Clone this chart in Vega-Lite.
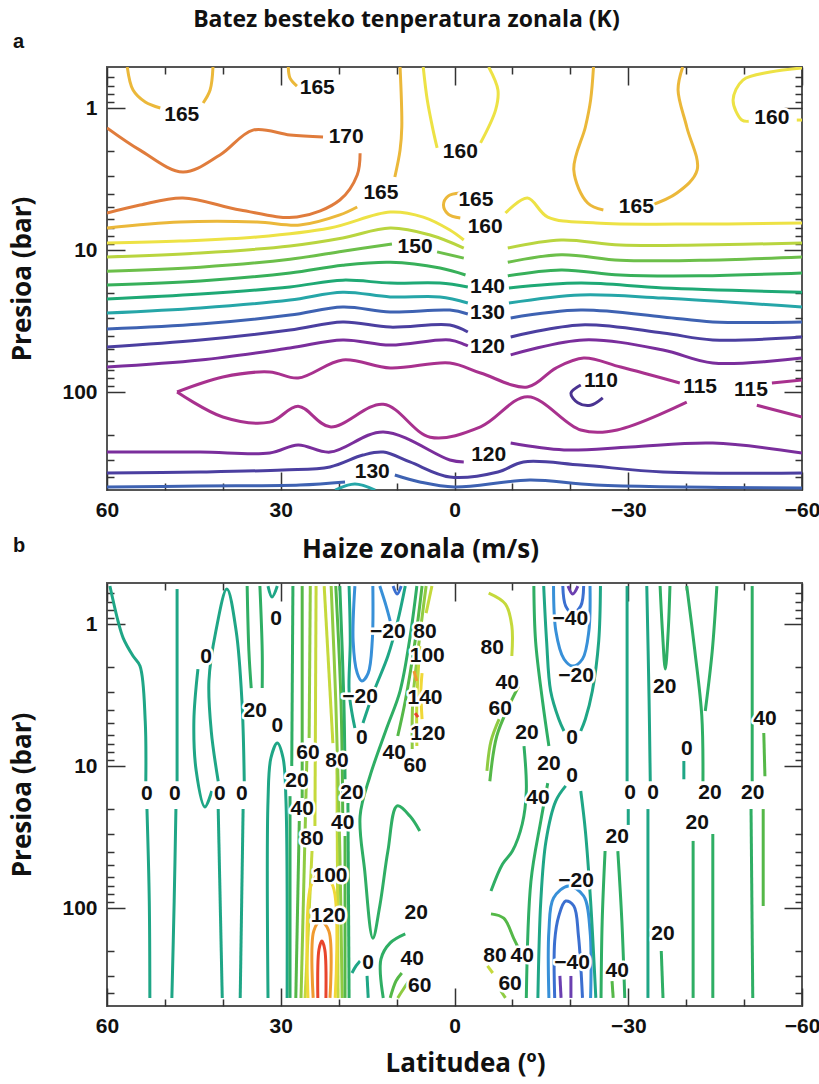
{
  "$schema": "https://vega.github.io/schema/vega-lite/v6.json",
  "autosize": {"type": "pad"},
  "padding": {"left": 8, "top": 9, "right": 2, "bottom": 8},
  "background": "white",
  "title": {"text": "Batez besteko tenperatura  zonala (K)", "font": "Open Sans", "fontSize": 23, "fontWeight": "bold", "color": "#111", "anchor": "middle", "offset": -1, "dx": -8},
  "config": {
    "view": {"stroke": "#555", "strokeWidth": 2},
    "axis": {"grid": false, "domain": false, "tickColor": "#333", "tickWidth": 1.5, "labelFont": "Liberation Sans", "labelFontSize": 21, "labelFontWeight": "bold", "labelColor": "#111", "titleFont": "Open Sans", "titleFontSize": 26, "titleFontWeight": "bold", "titleColor": "#111", "labelFlush": false, "labelOverlap": false}
  },
  "spacing": 93,
  "bounds": "flush",
  "resolve": {"scale": {"color": "independent"}},
  "datasets": {
    "a1": [
      {"seg":"a165a","T":165,"lat":60,"p":7.0},{"seg":"a165a","T":165,"lat":47.4,"p":6.35},{"seg":"a165a","T":165,"lat":34.1,"p":6.35},{"seg":"a165a","T":165,"lat":26.7,"p":6.67},{"seg":"a165a","T":165,"lat":19.8,"p":5.66},{"seg":"a165a","T":165,"lat":16.8,"p":4.98},
      {"seg":"a165b","T":165,"lat":10.3,"p":3.06},{"seg":"a165b","T":165,"lat":9.4,"p":1.98},{"seg":"a165b","T":165,"lat":9.1,"p":1.36},{"seg":"a165b","T":165,"lat":9.4,"p":0.514},
      {"seg":"a160e","T":160,"lat":60,"p":8.93},{"seg":"a160e","T":160,"lat":47.4,"p":8.65},{"seg":"a160e","T":160,"lat":34.1,"p":8.1},{"seg":"a160e","T":160,"lat":21.5,"p":7.0},{"seg":"a160e","T":160,"lat":11.1,"p":5.4},{"seg":"a160e","T":160,"lat":5.4,"p":5.86},{"seg":"a160e","T":160,"lat":0.8,"p":7.23},{"seg":"a160e","T":160,"lat":-1.6,"p":8.5},
      {"seg":"a160f","T":160,"lat":-8.8,"p":5.49},{"seg":"a160f","T":160,"lat":-12.6,"p":4.3},{"seg":"a160f","T":160,"lat":-16.1,"p":5.86},{"seg":"a160f","T":160,"lat":-24.4,"p":6.45},{"seg":"a160f","T":160,"lat":-42.4,"p":6.56},{"seg":"a160f","T":160,"lat":-60,"p":6.45},
      {"seg":"a155a","T":155,"lat":60,"p":11.2},{"seg":"a155a","T":155,"lat":43.9,"p":10.5},{"seg":"a155a","T":155,"lat":28.4,"p":9.37},{"seg":"a155a","T":155,"lat":19.3,"p":8.23},{"seg":"a155a","T":155,"lat":11.1,"p":7.0},{"seg":"a155a","T":155,"lat":4.2,"p":7.84},{"seg":"a155a","T":155,"lat":-1.6,"p":9.68},
      {"seg":"a155b","T":155,"lat":-9.2,"p":9.68},{"seg":"a155b","T":155,"lat":-18.4,"p":8.5},{"seg":"a155b","T":155,"lat":-28.6,"p":9.22},{"seg":"a155b","T":155,"lat":-42.4,"p":9.22},{"seg":"a155b","T":155,"lat":-60,"p":8.93},
      {"seg":"a150a","T":150,"lat":60,"p":14.1},{"seg":"a150a","T":150,"lat":43.9,"p":13.2},{"seg":"a150a","T":150,"lat":28.4,"p":11.6},{"seg":"a150a","T":150,"lat":19.3,"p":10.2},{"seg":"a150a","T":150,"lat":10.8,"p":9.07},
      {"seg":"a150b","T":150,"lat":3.0,"p":10.3},{"seg":"a150b","T":150,"lat":-1.6,"p":11.4},
      {"seg":"a150c","T":150,"lat":-9.2,"p":12.2},{"seg":"a150c","T":150,"lat":-18.4,"p":10.8},{"seg":"a150c","T":150,"lat":-28.6,"p":11.8},{"seg":"a150c","T":150,"lat":-42.4,"p":11.8},{"seg":"a150c","T":150,"lat":-60,"p":11.2},
      {"seg":"a145a","T":145,"lat":60,"p":17.6},{"seg":"a145a","T":145,"lat":43.9,"p":16.5},{"seg":"a145a","T":145,"lat":28.4,"p":14.5},{"seg":"a145a","T":145,"lat":19.3,"p":12.8},{"seg":"a145a","T":145,"lat":11.1,"p":12.2},{"seg":"a145a","T":145,"lat":2.5,"p":13.4},{"seg":"a145a","T":145,"lat":-1.9,"p":15.0},
      {"seg":"a145b","T":145,"lat":-9.2,"p":15.2},{"seg":"a145b","T":145,"lat":-18.4,"p":13.8},{"seg":"a145b","T":145,"lat":-28.6,"p":15.0},{"seg":"a145b","T":145,"lat":-42.4,"p":15.2},{"seg":"a145b","T":145,"lat":-60,"p":14.5},
      {"seg":"a140a","T":140,"lat":60,"p":22.1},{"seg":"a140a","T":140,"lat":43.9,"p":20.4},{"seg":"a140a","T":140,"lat":28.4,"p":18.2},{"seg":"a140a","T":140,"lat":19.3,"p":16.3},{"seg":"a140a","T":140,"lat":11.1,"p":17.1},{"seg":"a140a","T":140,"lat":2.5,"p":17.1},{"seg":"a140a","T":140,"lat":-2.3,"p":18.2},
      {"seg":"a140b","T":140,"lat":-9.4,"p":18.5},{"seg":"a140b","T":140,"lat":-21.8,"p":17.1},{"seg":"a140b","T":140,"lat":-36,"p":18.5},{"seg":"a140b","T":140,"lat":-60,"p":19.8},
      {"seg":"a135a","T":135,"lat":60,"p":27.8},{"seg":"a135a","T":135,"lat":43.9,"p":25.6},{"seg":"a135a","T":135,"lat":28.4,"p":22.5},{"seg":"a135a","T":135,"lat":19.3,"p":19.8},{"seg":"a135a","T":135,"lat":11.1,"p":21.4},{"seg":"a135a","T":135,"lat":2.5,"p":21.4},{"seg":"a135a","T":135,"lat":-2.3,"p":23.6},
      {"seg":"a135b","T":135,"lat":-9.4,"p":23.6},{"seg":"a135b","T":135,"lat":-21.8,"p":20.7},{"seg":"a135b","T":135,"lat":-36,"p":21.8},{"seg":"a135b","T":135,"lat":-60,"p":25.2},
      {"seg":"a130a","T":130,"lat":60,"p":36.0},{"seg":"a130a","T":130,"lat":43.9,"p":33.2},{"seg":"a130a","T":130,"lat":28.4,"p":28.7},{"seg":"a130a","T":130,"lat":19.3,"p":25.2},{"seg":"a130a","T":130,"lat":11.1,"p":27.3},{"seg":"a130a","T":130,"lat":0.8,"p":26.5},{"seg":"a130a","T":130,"lat":-2.3,"p":28.2},
      {"seg":"a130b","T":130,"lat":-9.7,"p":30.1},{"seg":"a130b","T":130,"lat":-21.8,"p":26.5},{"seg":"a130b","T":130,"lat":-36,"p":29.6},{"seg":"a130b","T":130,"lat":-44.6,"p":32.1},{"seg":"a130b","T":130,"lat":-60,"p":32.1},
      {"seg":"a125a","T":125,"lat":60,"p":48.2},{"seg":"a125a","T":125,"lat":43.9,"p":43.0},{"seg":"a125a","T":125,"lat":28.4,"p":36.6},{"seg":"a125a","T":125,"lat":19.3,"p":32.1},{"seg":"a125a","T":125,"lat":11.1,"p":34.9},{"seg":"a125a","T":125,"lat":0.8,"p":33.7},{"seg":"a125a","T":125,"lat":-2.3,"p":37.8},
      {"seg":"a125b","T":125,"lat":-9.7,"p":41.0},{"seg":"a125b","T":125,"lat":-21.8,"p":33.7},{"seg":"a125b","T":125,"lat":-36,"p":38.4},{"seg":"a125b","T":125,"lat":-44.6,"p":43.0},{"seg":"a125b","T":125,"lat":-60,"p":41.0},
      {"seg":"a120a","T":120,"lat":60,"p":66.7},{"seg":"a120a","T":120,"lat":43.9,"p":59.5},{"seg":"a120a","T":120,"lat":28.4,"p":49.0},{"seg":"a120a","T":120,"lat":19.3,"p":43.0},{"seg":"a120a","T":120,"lat":11.1,"p":46.7},{"seg":"a120a","T":120,"lat":0.8,"p":43.0},{"seg":"a120a","T":120,"lat":-2.3,"p":47.4},
      {"seg":"a120b","T":120,"lat":-9.7,"p":54.8},{"seg":"a120b","T":120,"lat":-22.3,"p":43.0},{"seg":"a120b","T":120,"lat":-36,"p":50.6},{"seg":"a120b","T":120,"lat":-44.6,"p":62.5},{"seg":"a120b","T":120,"lat":-60,"p":57.6},
      {"seg":"a115a","T":115,"lat":47.9,"p":100},{"seg":"a115a","T":115,"lat":40.0,"p":78.4},{"seg":"a115a","T":115,"lat":31.9,"p":72.3},{"seg":"a115a","T":115,"lat":27.0,"p":79.7},{"seg":"a115a","T":115,"lat":19.3,"p":59.5},{"seg":"a115a","T":115,"lat":11.1,"p":67.8},{"seg":"a115a","T":115,"lat":0.8,"p":62.5},{"seg":"a115a","T":115,"lat":-4.5,"p":73.5},{"seg":"a115a","T":115,"lat":-12.6,"p":92.2},{"seg":"a115a","T":115,"lat":-17.5,"p":67.8},{"seg":"a115a","T":115,"lat":-22.3,"p":57.6},{"seg":"a115a","T":115,"lat":-28.7,"p":66.7},{"seg":"a115a","T":115,"lat":-38.9,"p":86.4},
      {"seg":"a115b","T":115,"lat":-54.8,"p":86.4},{"seg":"a115b","T":115,"lat":-60,"p":82.3},
      {"seg":"a115c","T":115,"lat":47.9,"p":100},{"seg":"a115c","T":115,"lat":40.0,"p":150},{"seg":"a115c","T":115,"lat":31.9,"p":163},{"seg":"a115c","T":115,"lat":27.0,"p":126},{"seg":"a115c","T":115,"lat":21.5,"p":176},{"seg":"a115c","T":115,"lat":12.3,"p":122},{"seg":"a115c","T":115,"lat":4.2,"p":208},{"seg":"a115c","T":115,"lat":-4.5,"p":176},{"seg":"a115c","T":115,"lat":-12.6,"p":108},{"seg":"a115c","T":115,"lat":-21.8,"p":185},{"seg":"a115c","T":115,"lat":-28.1,"p":185},{"seg":"a115c","T":115,"lat":-40.1,"p":118},
      {"seg":"a115d","T":115,"lat":-52.2,"p":124},{"seg":"a115d","T":115,"lat":-60,"p":150},
      {"seg":"a120c","T":120,"lat":60,"p":265},{"seg":"a120c","T":120,"lat":43.9,"p":265},{"seg":"a120c","T":120,"lat":31.9,"p":269},{"seg":"a120c","T":120,"lat":27.0,"p":236},{"seg":"a120c","T":120,"lat":21.5,"p":265},{"seg":"a120c","T":120,"lat":12.3,"p":191},{"seg":"a120c","T":120,"lat":0.8,"p":301},{"seg":"a120c","T":120,"lat":-1.6,"p":311},
      {"seg":"a120d","T":120,"lat":-9.7,"p":229},{"seg":"a120d","T":120,"lat":-18.9,"p":256},{"seg":"a120d","T":120,"lat":-30.4,"p":244},{"seg":"a120d","T":120,"lat":-44.6,"p":229},{"seg":"a120d","T":120,"lat":-60,"p":269},
      {"seg":"a125c","T":125,"lat":60,"p":372},{"seg":"a125c","T":125,"lat":43.9,"p":366},{"seg":"a125c","T":125,"lat":29.6,"p":354},{"seg":"a125c","T":125,"lat":21.5,"p":337},{"seg":"a125c","T":125,"lat":15.8,"p":278},{"seg":"a125c","T":125,"lat":12.3,"p":265},{"seg":"a125c","T":125,"lat":7.7,"p":311},{"seg":"a125c","T":125,"lat":0.8,"p":397},{"seg":"a125c","T":125,"lat":-7.5,"p":366},{"seg":"a125c","T":125,"lat":-11.9,"p":311},{"seg":"a125c","T":125,"lat":-21.8,"p":327},{"seg":"a125c","T":125,"lat":-36,"p":366},{"seg":"a125c","T":125,"lat":-60,"p":372},
      {"seg":"a130c","T":130,"lat":60,"p":467},{"seg":"a130c","T":130,"lat":43.9,"p":459},{"seg":"a130c","T":130,"lat":26.7,"p":452},{"seg":"a130c","T":130,"lat":18.9,"p":430},
      {"seg":"a130d","T":130,"lat":10.3,"p":384},{"seg":"a130d","T":130,"lat":6.0,"p":430},{"seg":"a130d","T":130,"lat":0,"p":467},{"seg":"a130d","T":130,"lat":-13.0,"p":417},{"seg":"a130d","T":130,"lat":-24.4,"p":452},{"seg":"a130d","T":130,"lat":-60,"p":474}
    ],
    "a2": [
      {"seg":"a170a","T":170,"lat":60,"p":1.38},{"seg":"a170a","T":170,"lat":54.3,"p":1.98},{"seg":"a170a","T":170,"lat":46.9,"p":2.82},{"seg":"a170a","T":170,"lat":40.5,"p":2.14},{"seg":"a170a","T":170,"lat":34.8,"p":1.43},{"seg":"a170a","T":170,"lat":28.4,"p":1.55},{"seg":"a170a","T":170,"lat":22.7,"p":1.6},
      {"seg":"a170b","T":170,"lat":16.3,"p":2.08},{"seg":"a170b","T":170,"lat":16.8,"p":2.96},{"seg":"a170b","T":170,"lat":19.8,"p":4.44},{"seg":"a170b","T":170,"lat":27.2,"p":5.86},{"seg":"a170b","T":170,"lat":37.0,"p":5.23},{"seg":"a170b","T":170,"lat":46.9,"p":4.3},{"seg":"a170b","T":170,"lat":54.3,"p":4.82},{"seg":"a170b","T":170,"lat":60,"p":5.49},
      {"seg":"a165c","T":165,"lat":56.5,"p":0.514},{"seg":"a165c","T":165,"lat":55.5,"p":0.747},{"seg":"a165c","T":165,"lat":53.4,"p":0.907},{"seg":"a165c","T":165,"lat":50.8,"p":1.0},
      {"seg":"a165d","T":165,"lat":43.4,"p":0.922},{"seg":"a165d","T":165,"lat":42.2,"p":0.747},{"seg":"a165d","T":165,"lat":41.7,"p":0.514},
      {"seg":"a165e","T":165,"lat":28.7,"p":0.514},{"seg":"a165e","T":165,"lat":28.4,"p":0.615},{"seg":"a165e","T":165,"lat":27.2,"p":0.7},
      {"seg":"a160a","T":160,"lat":5.4,"p":0.514},{"seg":"a160a","T":160,"lat":4.7,"p":0.879},{"seg":"a160a","T":160,"lat":3.7,"p":1.43},{"seg":"a160a","T":160,"lat":3.0,"p":1.91},
      {"seg":"a160b","T":160,"lat":-4.5,"p":1.76},{"seg":"a160b","T":160,"lat":-7.1,"p":1.03},{"seg":"a160b","T":160,"lat":-7.5,"p":0.747},{"seg":"a160b","T":160,"lat":-5.9,"p":0.514},
      {"seg":"a165f","T":165,"lat":-1.0,"p":3.97},{"seg":"a165f","T":165,"lat":1.1,"p":4.17},{"seg":"a165f","T":165,"lat":1.9,"p":4.82},{"seg":"a165f","T":165,"lat":1.1,"p":5.58},{"seg":"a165f","T":165,"lat":-1.0,"p":5.95},
      {"seg":"a165g","T":165,"lat":-24.0,"p":0.514},{"seg":"a165g","T":165,"lat":-23.5,"p":0.879},{"seg":"a165g","T":165,"lat":-22.6,"p":1.36},{"seg":"a165g","T":165,"lat":-20.6,"p":2.73},{"seg":"a165g","T":165,"lat":-23.0,"p":4.67},{"seg":"a165g","T":165,"lat":-25.7,"p":5.23},
      {"seg":"a165h","T":165,"lat":-33.6,"p":4.9},{"seg":"a165h","T":165,"lat":-38.4,"p":3.97},{"seg":"a165h","T":165,"lat":-41.9,"p":2.73},{"seg":"a165h","T":165,"lat":-40.1,"p":1.36},{"seg":"a165h","T":165,"lat":-38.6,"p":0.747},{"seg":"a165h","T":165,"lat":-39.4,"p":0.514},
      {"seg":"a160c","T":160,"lat":-60,"p":0.522},{"seg":"a160c","T":160,"lat":-54.5,"p":0.558},{"seg":"a160c","T":160,"lat":-49.8,"p":0.635},{"seg":"a160c","T":160,"lat":-48.1,"p":0.879},{"seg":"a160c","T":160,"lat":-49.6,"p":1.215},{"seg":"a160c","T":160,"lat":-50.8,"p":1.24},
      {"seg":"a160d","T":160,"lat":-59.1,"p":1.215},{"seg":"a160d","T":160,"lat":-60,"p":1.215},
      {"seg":"a110","T":110,"lat":-21.8,"p":89.3},{"seg":"a110","T":110,"lat":-20.1,"p":102},{"seg":"a110","T":110,"lat":-21.3,"p":119},{"seg":"a110","T":110,"lat":-23.5,"p":124},{"seg":"a110","T":110,"lat":-25.6,"p":110},
      {"seg":"a135","T":135,"lat":20.6,"p":490},{"seg":"a135","T":135,"lat":17.2,"p":445},{"seg":"a135","T":135,"lat":13.7,"p":490}
    ],
    "la": [
      {"txt":"170","lat":18.7,"p":1.6},{"txt":"165","lat":47.1,"p":1.12},{"txt":"165","lat":23.7,"p":0.723},{"txt":"165","lat":12.7,"p":3.97},{"txt":"160","lat":-1.0,"p":2.04},{"txt":"165","lat":-3.7,"p":4.44},{"txt":"160","lat":-5.3,"p":6.89},{"txt":"150","lat":6.8,"p":9.52},{"txt":"165","lat":-31.4,"p":4.98},{"txt":"160","lat":-54.8,"p":1.18},{"txt":"140","lat":-5.7,"p":18.2},{"txt":"130","lat":-5.7,"p":27.8},{"txt":"120","lat":-5.7,"p":48.2},{"txt":"110","lat":-25.3,"p":83.7},{"txt":"115","lat":-42.4,"p":92.2},{"txt":"115","lat":-51.2,"p":96.8},{"txt":"120","lat":-5.9,"p":278},{"txt":"130","lat":14.2,"p":366}
    ],
    "b1": [
      {"seg":"S1a","u":0,"lat":59.5,"p":0.54},{"seg":"S1a","u":0,"lat":58.1,"p":0.952},{"seg":"S1a","u":0,"lat":57.2,"p":1.255},{"seg":"S1a","u":0,"lat":55.5,"p":1.68},{"seg":"S1a","u":0,"lat":54.3,"p":1.976},{"seg":"S1a","u":0,"lat":53.4,"p":4.82},{"seg":"S1a","u":0,"lat":53.3,"p":12.8},
      {"seg":"S1b","u":0,"lat":53.1,"p":20.1},{"seg":"S1b","u":0,"lat":52.7,"p":89.3},{"seg":"S1b","u":0,"lat":52.6,"p":430},
      {"seg":"S2a","u":0,"lat":47.9,"p":0.567},{"seg":"S2a","u":0,"lat":47.9,"p":3.48},{"seg":"S2a","u":0,"lat":47.9,"p":12.8},
      {"seg":"S2b","u":0,"lat":48.1,"p":20.1},{"seg":"S2b","u":0,"lat":48.4,"p":89.3},{"seg":"S2b","u":0,"lat":48.8,"p":430},
      {"seg":"S3a","u":0,"lat":40.8,"p":12.8},{"seg":"S3a","u":0,"lat":42.0,"p":5.67},{"seg":"S3a","u":0,"lat":42.4,"p":2.52},{"seg":"S3a","u":0,"lat":41.2,"p":1.12},{"seg":"S3a","u":0,"lat":39.3,"p":0.567},{"seg":"S3a","u":0,"lat":37.7,"p":1.12},{"seg":"S3a","u":0,"lat":36.7,"p":3.48},{"seg":"S3a","u":0,"lat":36.3,"p":12.8},
      {"seg":"S3b","u":0,"lat":40.8,"p":20.1},{"seg":"S3b","u":0,"lat":40.1,"p":430},
      {"seg":"S3c","u":0,"lat":36.5,"p":20.1},{"seg":"S3c","u":0,"lat":37.0,"p":430},
      {"seg":"S4","u":0,"lat":44.3,"p":2.08},{"seg":"S4","u":0,"lat":45.0,"p":4.82},{"seg":"S4","u":0,"lat":44.6,"p":10.8},{"seg":"S4","u":0,"lat":43.1,"p":19.4},{"seg":"S4","u":0,"lat":41.9,"p":15.0},
      {"seg":"S5a","u":20,"lat":35.8,"p":0.54},{"seg":"S5a","u":20,"lat":35.5,"p":1.549},{"seg":"S5a","u":20,"lat":35.1,"p":2.824},
      {"seg":"S5b","u":20,"lat":33.2,"p":2.824},{"seg":"S5b","u":20,"lat":33.2,"p":1.549},{"seg":"S5b","u":20,"lat":33.6,"p":0.54},
      {"seg":"S6","u":0,"lat":32.2,"p":0.54},{"seg":"S6","u":0,"lat":31.5,"p":0.645},{"seg":"S6","u":0,"lat":30.6,"p":0.54},
      {"seg":"S7","u":0,"lat":32.2,"p":430},{"seg":"S7","u":0,"lat":32.2,"p":17.6},{"seg":"S7","u":0,"lat":31.7,"p":8.78},{"seg":"S7","u":0,"lat":30.6,"p":6.89},{"seg":"S7","u":0,"lat":29.6,"p":8.78},{"seg":"S7","u":0,"lat":29.1,"p":17.6},{"seg":"S7","u":0,"lat":28.9,"p":430},
      {"seg":"J20La","u":20,"lat":27.9,"p":0.54},{"seg":"J20La","u":20,"lat":28.1,"p":10},
      {"seg":"J20Lb","u":20,"lat":28.4,"p":16.3},{"seg":"J20Lb","u":20,"lat":28.4,"p":430},
      {"seg":"J40La","u":40,"lat":26.3,"p":0.54},{"seg":"J40La","u":40,"lat":26.3,"p":16.8},
      {"seg":"J40Lb","u":40,"lat":26.8,"p":24.4},{"seg":"J40Lb","u":40,"lat":27.4,"p":430},
      {"seg":"J60La","u":60,"lat":24.9,"p":0.54},{"seg":"J60La","u":60,"lat":25.1,"p":6.35},
      {"seg":"J60Lb","u":60,"lat":25.5,"p":9.22},{"seg":"J60Lb","u":60,"lat":26.5,"p":430},
      {"seg":"J80La","u":80,"lat":23.9,"p":0.54},{"seg":"J80La","u":80,"lat":24.1,"p":26.5},
      {"seg":"J80Lb","u":80,"lat":24.6,"p":39.7},{"seg":"J80Lb","u":80,"lat":25.8,"p":430},
      {"seg":"J80Ra","u":80,"lat":22.5,"p":0.54},{"seg":"J80Ra","u":80,"lat":21.0,"p":6.89},
      {"seg":"J80Rb","u":80,"lat":20.3,"p":10},{"seg":"J80Rb","u":80,"lat":20.1,"p":430},
      {"seg":"J100","u":100,"lat":25.3,"p":430},{"seg":"J100","u":100,"lat":24.8,"p":70},{"seg":"J100","u":100,"lat":23.1,"p":56.7},{"seg":"J100","u":100,"lat":21.0,"p":70},{"seg":"J100","u":100,"lat":20.6,"p":430},
      {"seg":"J120","u":120,"lat":24.4,"p":430},{"seg":"J120","u":120,"lat":24.3,"p":145},{"seg":"J120","u":120,"lat":23.1,"p":124},{"seg":"J120","u":120,"lat":21.7,"p":145},{"seg":"J120","u":120,"lat":21.5,"p":430},
      {"seg":"J140","u":140,"lat":23.6,"p":430},{"seg":"J140","u":140,"lat":23.4,"p":196},{"seg":"J140","u":140,"lat":22.9,"p":171},{"seg":"J140","u":140,"lat":22.4,"p":196},{"seg":"J140","u":140,"lat":22.2,"p":430},
      {"seg":"J60R","u":60,"lat":21.3,"p":0.54},{"seg":"J60R","u":60,"lat":20.5,"p":3.48},{"seg":"J60R","u":60,"lat":19.8,"p":39.7},{"seg":"J60R","u":60,"lat":19.4,"p":430},
      {"seg":"J40Ra","u":40,"lat":20.5,"p":0.54},{"seg":"J40Ra","u":40,"lat":19.6,"p":3.48},{"seg":"J40Ra","u":40,"lat":19.3,"p":21.4},
      {"seg":"J40Rb","u":40,"lat":18.9,"p":31.1},{"seg":"J40Rb","u":40,"lat":18.9,"p":430},
      {"seg":"J20Ra","u":20,"lat":19.8,"p":0.54},{"seg":"J20Ra","u":20,"lat":19.1,"p":3.48},{"seg":"J20Ra","u":20,"lat":18.9,"p":12.4},
      {"seg":"J20Rb","u":20,"lat":18.4,"p":18.2},{"seg":"J20Rb","u":20,"lat":18.2,"p":430},
      {"seg":"B4","u":0,"lat":18.2,"p":0.54},{"seg":"B4","u":0,"lat":18.0,"p":1.317},{"seg":"B4","u":0,"lat":18.2,"p":2.964},{"seg":"B4","u":0,"lat":17.7,"p":4.24},{"seg":"B4","u":0,"lat":17.2,"p":5.4},
      {"seg":"B1","u":-20,"lat":17.2,"p":0.54},{"seg":"B1","u":-20,"lat":17.5,"p":1.317},{"seg":"B1","u":-20,"lat":16.8,"p":2.214},{"seg":"B1","u":-20,"lat":16.0,"p":2.52},{"seg":"B1","u":-20,"lat":14.9,"p":2.214},{"seg":"B1","u":-20,"lat":14.2,"p":1.317},{"seg":"B1","u":-20,"lat":14.1,"p":0.54},
      {"seg":"B2","u":-20,"lat":12.9,"p":0.54},{"seg":"B2","u":-20,"lat":11.8,"p":0.747},{"seg":"B2","u":-20,"lat":11.1,"p":0.952},
      {"seg":"B3","u":-40,"lat":10.6,"p":0.54},{"seg":"B3","u":-40,"lat":9.9,"p":0.615},{"seg":"B3","u":-40,"lat":9.2,"p":0.54},
      {"seg":"K0","u":0,"lat":8.5,"p":0.54},{"seg":"K0","u":0,"lat":9.8,"p":0.952},{"seg":"K0","u":0,"lat":11.5,"p":1.68},{"seg":"K0","u":0,"lat":13.9,"p":2.964},{"seg":"K0","u":0,"lat":15.8,"p":4.98},
      {"seg":"B5","u":20,"lat":6.5,"p":0.54},{"seg":"B5","u":20,"lat":7.7,"p":1.255},{"seg":"B5","u":20,"lat":9.4,"p":2.964},{"seg":"B5","u":20,"lat":11.7,"p":5.4},{"seg":"B5","u":20,"lat":14.6,"p":11.8},{"seg":"B5","u":20,"lat":16.3,"p":22.5},{"seg":"B5","u":20,"lat":15.5,"p":54.8},{"seg":"B5","u":20,"lat":14.1,"p":163},{"seg":"B5","u":20,"lat":12.9,"p":96.8},{"seg":"B5","u":20,"lat":11.5,"p":39.7},{"seg":"B5","u":20,"lat":9.9,"p":19.1},{"seg":"B5","u":20,"lat":7.7,"p":22.5},{"seg":"B5","u":20,"lat":6.0,"p":28.7},
      {"seg":"B6","u":20,"lat":12.3,"p":430},{"seg":"B6","u":20,"lat":12.7,"p":229},{"seg":"B6","u":20,"lat":11.1,"p":176},{"seg":"B6","u":20,"lat":8.5,"p":152},
      {"seg":"B7","u":0,"lat":17.7,"p":287},{"seg":"B7","u":0,"lat":17.0,"p":256},{"seg":"B7","u":0,"lat":16.3,"p":236},
      {"seg":"B7b","u":0,"lat":15.1,"p":301},{"seg":"B7b","u":0,"lat":14.9,"p":430},
      {"seg":"B8","u":40,"lat":11.1,"p":430},{"seg":"B8","u":40,"lat":10.1,"p":327},{"seg":"B8","u":40,"lat":9.1,"p":287},
      {"seg":"B9","u":60,"lat":9.8,"p":430},{"seg":"B9","u":60,"lat":8.7,"p":366},{"seg":"B9","u":60,"lat":8.0,"p":333},
      {"seg":"K40","u":40,"lat":5.6,"p":0.54},{"seg":"K40","u":40,"lat":6.8,"p":1.317},{"seg":"K40","u":40,"lat":8.5,"p":3.482},{"seg":"K40","u":40,"lat":9.8,"p":6.145},
      {"seg":"K60","u":60,"lat":4.9,"p":0.54},{"seg":"K60","u":60,"lat":6.1,"p":1.317},{"seg":"K60","u":60,"lat":7.2,"p":3.482},{"seg":"K60","u":60,"lat":7.3,"p":7.59},
      {"seg":"K80a","u":80,"lat":3.9,"p":0.54},{"seg":"K80a","u":80,"lat":4.9,"p":0.837},
      {"seg":"K80b","u":80,"lat":6.0,"p":1.429},{"seg":"K80b","u":80,"lat":6.5,"p":3.482},{"seg":"K80b","u":80,"lat":6.5,"p":7.23},
      {"seg":"K100","u":100,"lat":5.6,"p":2.214},{"seg":"K100","u":100,"lat":5.8,"p":2.964},{"seg":"K100","u":100,"lat":5.6,"p":4.667},
      {"seg":"K120","u":120,"lat":7.0,"p":2.143},{"seg":"K120","u":120,"lat":6.5,"p":2.52},
      {"seg":"K140","u":140,"lat":6.8,"p":4.236},{"seg":"K140","u":140,"lat":6.3,"p":4.52}
    ],
    "b2": [
      {"seg":"R1","u":80,"lat":-5.9,"p":0.605},{"seg":"R1","u":80,"lat":-8.8,"p":0.723},{"seg":"R1","u":80,"lat":-9.9,"p":1.033},{"seg":"R1","u":80,"lat":-9.9,"p":1.68},
      {"seg":"R2","u":40,"lat":-6.1,"p":12.8},{"seg":"R2","u":40,"lat":-7.3,"p":6.145},{"seg":"R2","u":40,"lat":-9.4,"p":3.776},{"seg":"R2","u":40,"lat":-11.1,"p":2.733},
      {"seg":"R3","u":60,"lat":-5.6,"p":10.8},{"seg":"R3","u":60,"lat":-6.3,"p":6.67},{"seg":"R3","u":60,"lat":-7.7,"p":4.667},
      {"seg":"R4","u":20,"lat":-6.3,"p":75.9},{"seg":"R4","u":20,"lat":-8.3,"p":49.0},{"seg":"R4","u":20,"lat":-10.0,"p":39.7},{"seg":"R4","u":20,"lat":-11.7,"p":25.6},{"seg":"R4","u":20,"lat":-12.4,"p":15.0},{"seg":"R4","u":20,"lat":-12.0,"p":7.23},
      {"seg":"R6","u":40,"lat":-6.3,"p":110},{"seg":"R6","u":40,"lat":-8.5,"p":118},{"seg":"R6","u":40,"lat":-10.2,"p":163},{"seg":"R6","u":40,"lat":-11.1,"p":194},
      {"seg":"R7","u":80,"lat":-5.7,"p":256},{"seg":"R7","u":80,"lat":-6.6,"p":287},
      {"seg":"R8","u":60,"lat":-8.0,"p":384},{"seg":"R8","u":60,"lat":-8.8,"p":430},
      {"seg":"V20a","u":20,"lat":-13.7,"p":0.54},{"seg":"V20a","u":20,"lat":-14.0,"p":1.317},{"seg":"V20a","u":20,"lat":-15.2,"p":3.482},{"seg":"V20a","u":20,"lat":-16.3,"p":7.23},
      {"seg":"V20b","u":20,"lat":-16.1,"p":13.2},{"seg":"V20b","u":20,"lat":-14.9,"p":24.4},{"seg":"V20b","u":20,"lat":-13.2,"p":64.6},{"seg":"V20b","u":20,"lat":-12.4,"p":430},
      {"seg":"V0a","u":0,"lat":-15.4,"p":0.54},{"seg":"V0a","u":0,"lat":-15.9,"p":1.317},{"seg":"V0a","u":0,"lat":-16.6,"p":2.964},{"seg":"V0a","u":0,"lat":-18.0,"p":4.667},{"seg":"V0a","u":0,"lat":-18.9,"p":5.668},
      {"seg":"V0b","u":0,"lat":-25.2,"p":0.54},{"seg":"V0b","u":0,"lat":-24.9,"p":1.317},{"seg":"V0b","u":0,"lat":-23.8,"p":2.964},{"seg":"V0b","u":0,"lat":-22.6,"p":4.667},{"seg":"V0b","u":0,"lat":-21.8,"p":5.668},
      {"seg":"Um20","u":-20,"lat":-17.1,"p":0.54},{"seg":"Um20","u":-20,"lat":-17.5,"p":1.12},{"seg":"Um20","u":-20,"lat":-18.9,"p":1.764},{"seg":"Um20","u":-20,"lat":-20.4,"p":1.976},{"seg":"Um20","u":-20,"lat":-22.1,"p":1.764},{"seg":"Um20","u":-20,"lat":-23.2,"p":1.12},{"seg":"Um20","u":-20,"lat":-23.4,"p":0.54},
      {"seg":"Um40","u":-40,"lat":-18.7,"p":0.54},{"seg":"Um40","u":-40,"lat":-19.2,"p":0.747},{"seg":"Um40","u":-40,"lat":-20.4,"p":0.837},{"seg":"Um40","u":-40,"lat":-21.8,"p":0.747},{"seg":"Um40","u":-40,"lat":-22.3,"p":0.54},
      {"seg":"Um60","u":-60,"lat":-19.6,"p":0.54},{"seg":"Um60","u":-60,"lat":-20.4,"p":0.615},{"seg":"Um60","u":-60,"lat":-21.3,"p":0.54},
      {"seg":"Lm20","u":-20,"lat":-16.3,"p":430},{"seg":"Lm20","u":-20,"lat":-16.3,"p":145},{"seg":"Lm20","u":-20,"lat":-17.1,"p":85},{"seg":"Lm20","u":-20,"lat":-19.7,"p":70},{"seg":"Lm20","u":-20,"lat":-22.3,"p":82.3},{"seg":"Lm20","u":-20,"lat":-23.4,"p":145},{"seg":"Lm20","u":-20,"lat":-23.5,"p":430},
      {"seg":"Lm40","u":-40,"lat":-17.3,"p":430},{"seg":"Lm40","u":-40,"lat":-17.3,"p":171},{"seg":"Lm40","u":-40,"lat":-18.0,"p":114},{"seg":"Lm40","u":-40,"lat":-19.2,"p":89.3},{"seg":"Lm40","u":-40,"lat":-20.6,"p":96.8},{"seg":"Lm40","u":-40,"lat":-21.4,"p":157},{"seg":"Lm40","u":-40,"lat":-22.1,"p":430},
      {"seg":"Lm60a","u":-60,"lat":-18.2,"p":301},{"seg":"Lm60a","u":-60,"lat":-18.4,"p":430},
      {"seg":"Lm60b","u":-60,"lat":-20.1,"p":301},{"seg":"Lm60b","u":-60,"lat":-20.1,"p":430},
      {"seg":"L0a","u":0,"lat":-14.4,"p":430},{"seg":"L0a","u":0,"lat":-14.9,"p":89.3},{"seg":"L0a","u":0,"lat":-15.8,"p":33.7},{"seg":"L0a","u":0,"lat":-17.5,"p":17.6},{"seg":"L0a","u":0,"lat":-19.2,"p":13.8},
      {"seg":"L0b","u":0,"lat":-21.8,"p":15.0},{"seg":"L0b","u":0,"lat":-22.6,"p":28.7},{"seg":"L0b","u":0,"lat":-23.5,"p":89.3},{"seg":"L0b","u":0,"lat":-24.4,"p":430},
      {"seg":"W11","u":20,"lat":-26.0,"p":39.7},{"seg":"W11","u":20,"lat":-25.5,"p":124},{"seg":"W11","u":20,"lat":-25.3,"p":430},
      {"seg":"W10","u":20,"lat":-28.2,"p":39.7},{"seg":"W10","u":20,"lat":-28.9,"p":124},{"seg":"W10","u":20,"lat":-29.4,"p":430},
      {"seg":"W12","u":40,"lat":-27.2,"p":327},{"seg":"W12","u":40,"lat":-27.4,"p":430},
      {"seg":"W1a","u":0,"lat":-29.8,"p":0.54},{"seg":"W1a","u":0,"lat":-29.8,"p":3.482},{"seg":"W1a","u":0,"lat":-29.8,"p":12.8},
      {"seg":"W1b","u":0,"lat":-30.0,"p":20.1},{"seg":"W1b","u":0,"lat":-30.0,"p":26.0},
      {"seg":"W2a","u":0,"lat":-33.2,"p":0.54},{"seg":"W2a","u":0,"lat":-33.6,"p":3.482},{"seg":"W2a","u":0,"lat":-33.8,"p":12.8},
      {"seg":"W2b","u":0,"lat":-33.4,"p":20.1},{"seg":"W2b","u":0,"lat":-33.4,"p":89.3},{"seg":"W2b","u":0,"lat":-33.4,"p":430},
      {"seg":"W3","u":20,"lat":-35.5,"p":0.54},{"seg":"W3","u":20,"lat":-35.9,"p":1.12},{"seg":"W3","u":20,"lat":-36.4,"p":2.075},{"seg":"W3","u":20,"lat":-36.9,"p":1.12},{"seg":"W3","u":20,"lat":-37.2,"p":0.54},
      {"seg":"W4a","u":20,"lat":-40.1,"p":0.54},{"seg":"W4a","u":20,"lat":-41.5,"p":1.549},{"seg":"W4a","u":20,"lat":-42.7,"p":4.444},{"seg":"W4a","u":20,"lat":-42.9,"p":12.8},
      {"seg":"W4b","u":20,"lat":-45.3,"p":0.54},{"seg":"W4b","u":20,"lat":-44.5,"p":1.549},{"seg":"W4b","u":20,"lat":-43.3,"p":4.1},
      {"seg":"W4c","u":20,"lat":-41.2,"p":33.7},{"seg":"W4c","u":20,"lat":-41.2,"p":430},
      {"seg":"W4d","u":20,"lat":-44.6,"p":30.1},{"seg":"W4d","u":20,"lat":-44.6,"p":430},
      {"seg":"W5","u":0,"lat":-39.6,"p":9.22},{"seg":"W5","u":0,"lat":-39.6,"p":12.4},
      {"seg":"W6","u":20,"lat":-35.7,"p":201},{"seg":"W6","u":20,"lat":-36.0,"p":430},
      {"seg":"W7a","u":20,"lat":-51.4,"p":0.54},{"seg":"W7a","u":20,"lat":-51.4,"p":12.8},
      {"seg":"W7b","u":20,"lat":-51.2,"p":20.1},{"seg":"W7b","u":20,"lat":-51.5,"p":430},
      {"seg":"W8a","u":40,"lat":-53.4,"p":5.855},{"seg":"W8a","u":40,"lat":-53.6,"p":11.8},
      {"seg":"W8b","u":40,"lat":-53.3,"p":20.1},{"seg":"W8b","u":40,"lat":-53.3,"p":96.8}
    ],
    "lb": [
      {"txt":"0","lat":53.1,"p":15.8},{"txt":"0","lat":48.3,"p":15.8},{"txt":"0","lat":40.5,"p":15.8},{"txt":"0","lat":36.7,"p":15.8},{"txt":"0","lat":42.9,"p":1.708},{"txt":"0","lat":30.8,"p":0.922},{"txt":"20","lat":34.4,"p":4.1},{"txt":"0","lat":30.6,"p":5.23},
      {"txt":"20","lat":27.2,"p":12.8},{"txt":"40","lat":26.3,"p":20.1},{"txt":"60","lat":25.3,"p":8.1},{"txt":"80","lat":20.3,"p":9.22},{"txt":"80","lat":24.6,"p":32.7},{"txt":"100","lat":21.5,"p":59.5},{"txt":"120","lat":21.8,"p":114},{"txt":"40","lat":19.3,"p":25.2},{"txt":"20","lat":17.7,"p":15.5},
      {"txt":"−20","lat":16.3,"p":3.27},{"txt":"−20","lat":11.5,"p":1.139},{"txt":"0","lat":16.0,"p":6.35},{"txt":"80","lat":5.1,"p":1.139},{"txt":"100","lat":4.7,"p":1.68},{"txt":"140","lat":5.1,"p":3.317},{"txt":"120","lat":4.6,"p":5.95},{"txt":"40","lat":10.4,"p":8.1},{"txt":"60","lat":6.8,"p":10},
      {"txt":"20","lat":6.6,"p":108},{"txt":"0","lat":14.9,"p":244},{"txt":"40","lat":7.3,"p":229},{"txt":"60","lat":6.0,"p":354},
      {"txt":"80","lat":-6.5,"p":1.476},{"txt":"40","lat":-9.1,"p":2.603},{"txt":"60","lat":-7.9,"p":3.969},{"txt":"20","lat":-12.5,"p":5.855},{"txt":"40","lat":-14.4,"p":16.8},{"txt":"80","lat":-7.0,"p":218},{"txt":"40","lat":-11.7,"p":218},{"txt":"60","lat":-9.6,"p":343},
      {"txt":"−40","lat":-20.0,"p":0.922},{"txt":"−20","lat":-21.0,"p":2.324},{"txt":"0","lat":-20.3,"p":6.35},{"txt":"20","lat":-16.3,"p":9.68},{"txt":"0","lat":-20.3,"p":11.8},{"txt":"−20","lat":-21.0,"p":64.6},{"txt":"−40","lat":-20.3,"p":244},
      {"txt":"0","lat":-30.3,"p":15.5},{"txt":"0","lat":-34.3,"p":15.5},{"txt":"20","lat":-36.3,"p":2.78},{"txt":"20","lat":-44.1,"p":15.5},{"txt":"20","lat":-51.5,"p":15.5},{"txt":"20","lat":-41.9,"p":25.2},{"txt":"0","lat":-40.1,"p":7.59},{"txt":"20","lat":-28.1,"p":31.6},{"txt":"20","lat":-36.0,"p":152},{"txt":"40","lat":-28.1,"p":278},{"txt":"40","lat":-53.6,"p":4.667}
    ]
  },
  "vconcat": [
    {
      "width": 695, "height": 423,
      "title": {"text": "a", "anchor": "start", "frame": "bounds", "font": "Liberation Sans", "fontSize": 20, "fontWeight": "bold", "color": "#111", "offset": 14, "dx": 4},
      "resolve": {"axis": {"x": "independent", "y": "independent"}},
      "layer": [
        {"data": {"name": "a1"}, "mark": {"type": "line", "strokeWidth": 3, "clip": true, "interpolate": "catmull-rom"},
         "encoding": {
           "x": {"field": "lat", "type": "quantitative", "scale": {"domain": [-60, 60], "reverse": true, "nice": false, "zero": false},
                 "axis": {"orient": "bottom", "values": [60, 30, 0, -30, -60], "format": "d", "tickSize": -18, "labelPadding": 27, "title": "Haize zonala (m/s)", "titleX": 313, "titleY": 59, "titleBaseline": "middle", "titleAlign": "center"}},
           "y": {"field": "p", "type": "quantitative", "scale": {"type": "log", "domain": [0.514, 490], "reverse": true, "nice": false},
                 "axis": {"orient": "left", "values": [1, 10, 100], "format": "d", "tickSize": -18, "labelPadding": 28, "title": "Presioa (bar)", "titleX": -85, "titleY": 211.5, "titleAngle": 270, "titleBaseline": "middle", "titleAlign": "center"}},
           "color": {"field": "T", "type": "ordinal", "scale": {"domain": [110, 115, 120, 125, 130, 135, 140, 145, 150, 155, 160, 165, 170], "range": ["#4a3391", "#a8318e", "#7a2e9c", "#4b3fa0", "#3e62b2", "#26a6a8", "#1fa975", "#38b05a", "#6cbf4a", "#b9d53f", "#ede245", "#ebb83a", "#e07c3c"]}, "legend": null},
           "detail": {"field": "seg"},
           "order": {"value": null}
         }},
        {"data": {"name": "a2"}, "mark": {"type": "line", "strokeWidth": 3, "clip": true, "interpolate": "catmull-rom"},
         "encoding": {
           "x": {"field": "lat", "type": "quantitative", "axis": {"orient": "top", "values": [50, 40, 20, 10, -10, -20, -40, -50], "tickSize": -7, "labels": false, "title": null}},
           "y": {"field": "p", "type": "quantitative", "axis": {"orient": "right", "values": [0.6, 0.7, 0.8, 0.9, 2, 3, 4, 5, 6, 7, 8, 9, 20, 30, 40, 50, 60, 70, 80, 90, 200, 300, 400], "tickSize": -7, "labels": false, "title": null}},
           "color": {"field": "T", "type": "ordinal", "legend": null},
           "detail": {"field": "seg"},
           "order": {"value": null}
         }},
        {"data": {"name": "la"}, "mark": {"type": "text", "font": "Liberation Sans", "fontSize": 21, "fontWeight": "bold", "fill": "white", "stroke": "white", "strokeWidth": 5, "strokeJoin": "round"},
         "encoding": {
           "x": {"field": "lat", "type": "quantitative", "axis": {"orient": "bottom", "values": [50, 40, 20, 10, -10, -20, -40, -50], "tickSize": -7, "labels": false, "title": null}},
           "y": {"field": "p", "type": "quantitative", "axis": {"orient": "left", "values": [0.6, 0.7, 0.8, 0.9, 2, 3, 4, 5, 6, 7, 8, 9, 20, 30, 40, 50, 60, 70, 80, 90, 200, 300, 400], "tickSize": -7, "labels": false, "title": null}},
           "text": {"field": "txt"}
         }},
        {"data": {"name": "la"}, "mark": {"type": "text", "font": "Liberation Sans", "fontSize": 21, "fontWeight": "bold", "fill": "#111"},
         "encoding": {
           "x": {"field": "lat", "type": "quantitative", "axis": {"orient": "top", "values": [60, 30, 0, -30, -60], "tickSize": -18, "labels": false, "title": null}},
           "y": {"field": "p", "type": "quantitative", "axis": {"orient": "right", "values": [1, 10, 100], "tickSize": -18, "labels": false, "title": null}},
           "text": {"field": "txt"}
         }}
      ]
    },
    {
      "width": 695, "height": 423,
      "title": {"text": "b", "anchor": "start", "frame": "bounds", "font": "Liberation Sans", "fontSize": 20, "fontWeight": "bold", "color": "#111", "offset": 26, "dx": 4},
      "resolve": {"axis": {"x": "independent", "y": "independent"}},
      "layer": [
        {"data": {"name": "b1"}, "mark": {"type": "line", "strokeWidth": 3, "clip": true, "interpolate": "catmull-rom"},
         "encoding": {
           "x": {"field": "lat", "type": "quantitative", "scale": {"domain": [-60, 60], "reverse": true, "nice": false, "zero": false},
                 "axis": {"orient": "bottom", "values": [60, 30, 0, -30, -60], "format": "d", "tickSize": -18, "labelPadding": 27, "title": "Latitudea (º)", "titleX": 358, "titleY": 57, "titleBaseline": "middle", "titleAlign": "center"}},
           "y": {"field": "p", "type": "quantitative", "scale": {"type": "log", "domain": [0.514, 490], "reverse": true, "nice": false},
                 "axis": {"orient": "left", "values": [1, 10, 100], "format": "d", "tickSize": -18, "labelPadding": 28, "title": "Presioa (bar)", "titleX": -85, "titleY": 211.5, "titleAngle": 270, "titleBaseline": "middle", "titleAlign": "center"}},
           "color": {"field": "u", "type": "ordinal", "scale": {"domain": [-60, -40, -20, 0, 20, 40, 60, 80, 100, 120, 140], "range": ["#6b3fb0", "#3b6fd0", "#3890d8", "#1fa686", "#2fae64", "#55b848", "#8fcb42", "#c5d93c", "#f0d838", "#f09a30", "#e8452c"]}, "legend": null},
           "detail": {"field": "seg"},
           "order": {"value": null}
         }},
        {"data": {"name": "b2"}, "mark": {"type": "line", "strokeWidth": 3, "clip": true, "interpolate": "catmull-rom"},
         "encoding": {
           "x": {"field": "lat", "type": "quantitative", "axis": {"orient": "top", "values": [50, 40, 20, 10, -10, -20, -40, -50], "tickSize": -7, "labels": false, "title": null}},
           "y": {"field": "p", "type": "quantitative", "axis": {"orient": "right", "values": [0.6, 0.7, 0.8, 0.9, 2, 3, 4, 5, 6, 7, 8, 9, 20, 30, 40, 50, 60, 70, 80, 90, 200, 300, 400], "tickSize": -7, "labels": false, "title": null}},
           "color": {"field": "u", "type": "ordinal", "legend": null},
           "detail": {"field": "seg"},
           "order": {"value": null}
         }},
        {"data": {"name": "lb"}, "mark": {"type": "text", "font": "Liberation Sans", "fontSize": 21, "fontWeight": "bold", "fill": "white", "stroke": "white", "strokeWidth": 5, "strokeJoin": "round"},
         "encoding": {
           "x": {"field": "lat", "type": "quantitative", "axis": {"orient": "bottom", "values": [50, 40, 20, 10, -10, -20, -40, -50], "tickSize": -7, "labels": false, "title": null}},
           "y": {"field": "p", "type": "quantitative", "axis": {"orient": "left", "values": [0.6, 0.7, 0.8, 0.9, 2, 3, 4, 5, 6, 7, 8, 9, 20, 30, 40, 50, 60, 70, 80, 90, 200, 300, 400], "tickSize": -7, "labels": false, "title": null}},
           "text": {"field": "txt"}
         }},
        {"data": {"name": "lb"}, "mark": {"type": "text", "font": "Liberation Sans", "fontSize": 21, "fontWeight": "bold", "fill": "#111"},
         "encoding": {
           "x": {"field": "lat", "type": "quantitative", "axis": {"orient": "top", "values": [60, 30, 0, -30, -60], "tickSize": -18, "labels": false, "title": null}},
           "y": {"field": "p", "type": "quantitative", "axis": {"orient": "right", "values": [1, 10, 100], "tickSize": -18, "labels": false, "title": null}},
           "text": {"field": "txt"}
         }}
      ]
    }
  ]
}
